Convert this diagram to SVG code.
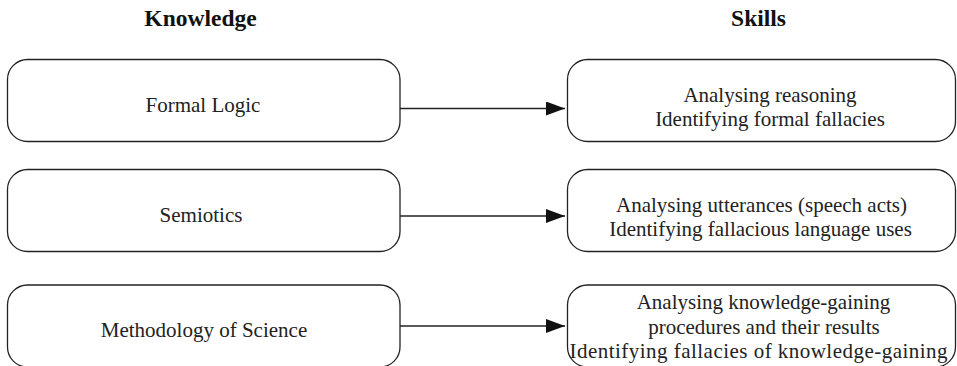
<svg xmlns="http://www.w3.org/2000/svg" width="957" height="366" viewBox="0 0 957 366">
<style>
.box{fill:#fff;stroke:#222;stroke-width:1.3}
.t{font-family:"Liberation Serif","Times New Roman",serif;font-size:21px;fill:#222;text-anchor:middle}
.h{font-family:"Liberation Serif","Times New Roman",serif;font-size:23.5px;font-weight:bold;fill:#111;text-anchor:middle}
.c{stroke:#222;stroke-width:1.3;fill:none}
</style>
<defs>
<marker id="ah" markerWidth="19" markerHeight="14" refX="19" refY="7" orient="auto" markerUnits="userSpaceOnUse">
<path d="M0,0 L19,7 L0,14 Z" fill="#111"/>
</marker>
</defs>
<rect width="957" height="366" fill="#fff"/>
<text class="h" x="200.5" y="26">Knowledge</text>
<text class="h" x="758.5" y="26">Skills</text>
<g id="k1"><rect class="box" x="7.5" y="59.5" width="392.5" height="82" rx="20"/><text class="t" x="203" y="111.5">Formal Logic</text></g>
<g id="k2"><rect class="box" x="7.5" y="169.5" width="392.5" height="82" rx="20"/><text class="t" x="201" y="221.5">Semiotics</text></g>
<g id="k3"><rect class="box" x="7.5" y="285" width="392.5" height="82" rx="20"/><text class="t" x="204" y="337">Methodology of Science</text></g>
<g id="s1"><rect class="box" x="567.5" y="59.5" width="388" height="82" rx="20"/><text class="t" x="770" y="102">Analysing reasoning</text><text class="t" x="770" y="125.5">Identifying formal fallacies</text></g>
<g id="s2"><rect class="box" x="567.5" y="169.5" width="388" height="82" rx="20"/><text class="t" x="761.5" y="212">Analysing utterances (speech acts)</text><text class="t" x="760.5" y="235.5">Identifying fallacious language uses</text></g>
<g id="s3"><rect class="box" x="567.5" y="285" width="388" height="82" rx="20"/><text class="t" x="763.5" y="309">Analysing knowledge-gaining</text><text class="t" x="764" y="333.5">procedures and their results</text><text class="t" x="758.5" y="358" textLength="378" lengthAdjust="spacing">Identifying fallacies of knowledge-gaining</text></g>
<g id="connectors">
<line class="c" x1="400" y1="108.5" x2="565" y2="108.5" marker-end="url(#ah)"/>
<line class="c" x1="400" y1="216" x2="565" y2="216" marker-end="url(#ah)"/>
<line class="c" x1="400" y1="326" x2="565" y2="326" marker-end="url(#ah)"/>
</g>
</svg>
